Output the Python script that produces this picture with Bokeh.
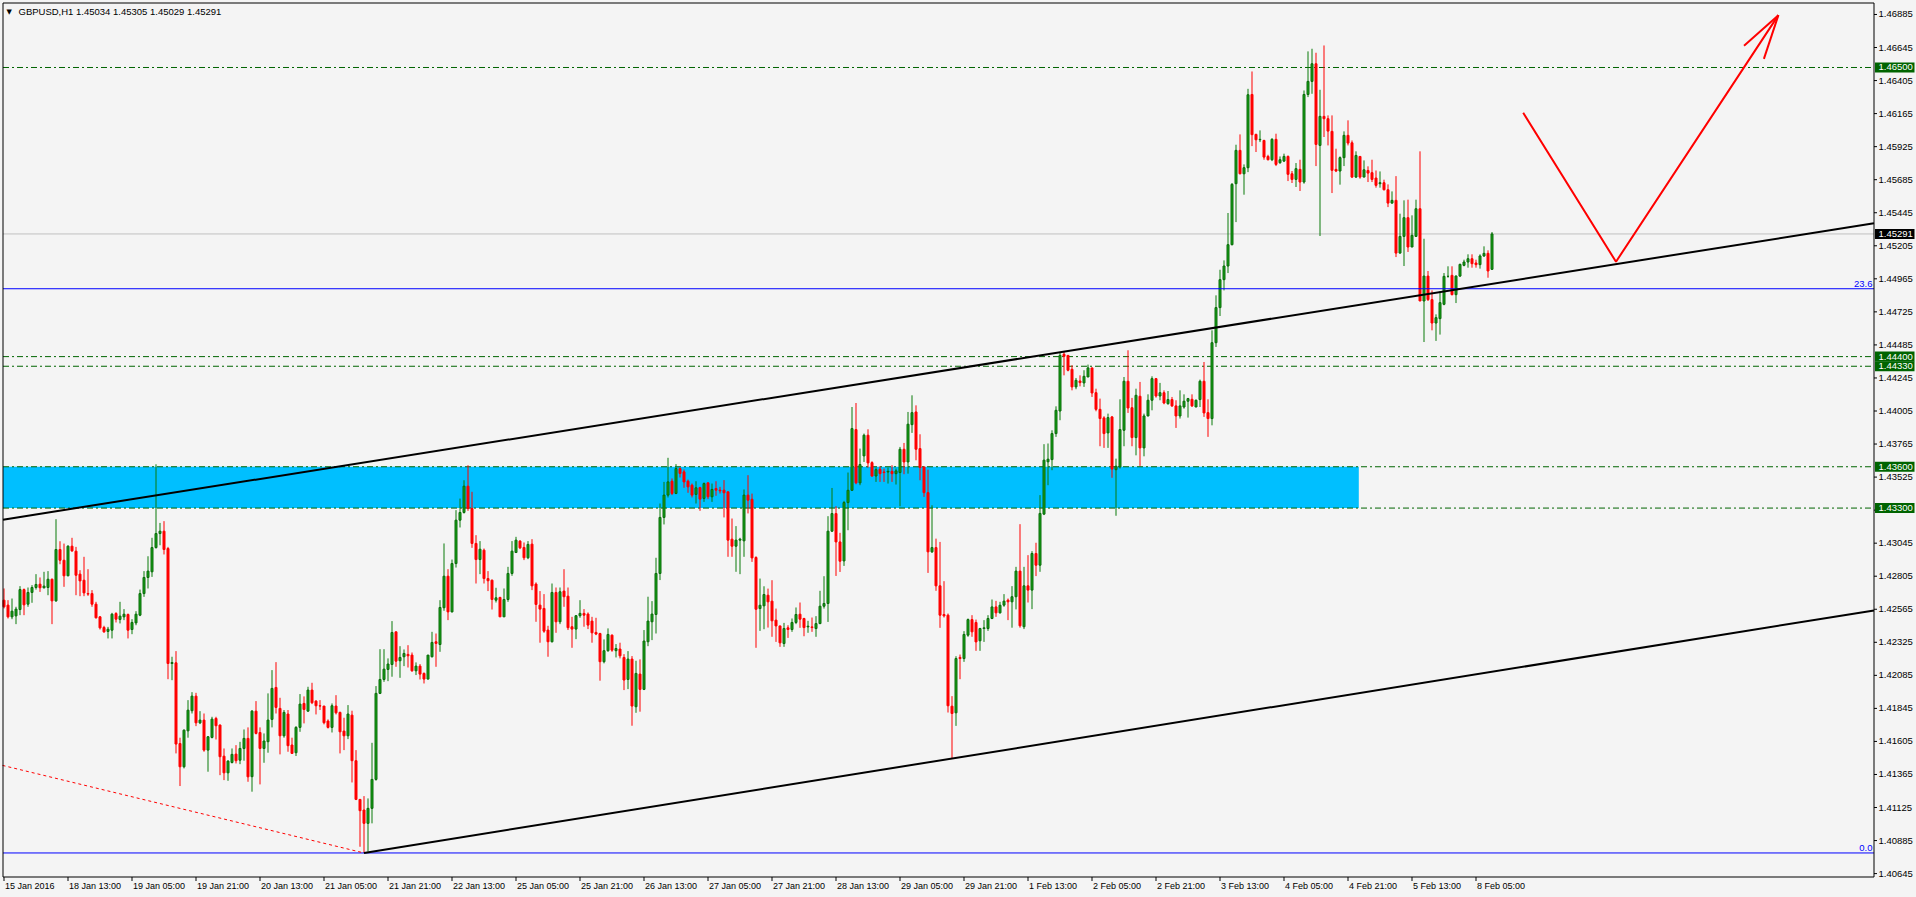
import math
from bokeh.plotting import figure
from bokeh.models import Range1d, ColumnDataSource
from bokeh.core.properties import value
from bokeh.embed import file_html
from bokeh.resources import INLINE

# ---------------- data (GBPUSD H1) ----------------
symbol = "GBPUSD,H1"

opens = [
 1.42631, 1.42595, 1.42510, 1.42517, 1.42563, 1.42708, 1.42602, 1.42687, 1.42723, 1.42747,
 1.42721, 1.42723, 1.42783, 1.42626, 1.42999, 1.42921, 1.42808, 1.43023, 1.42987, 1.42820,
 1.42776, 1.42679, 1.42679, 1.42602, 1.42510, 1.42433, 1.42404, 1.42413, 1.42534, 1.42491,
 1.42510, 1.42527, 1.42418, 1.42466, 1.42522, 1.42679, 1.42796, 1.42837, 1.43013, 1.43115,
 1.43132, 1.43006, 1.42171, 1.42176, 1.41590, 1.41421, 1.41682, 1.41828, 1.41934, 1.41740,
 1.41760, 1.41542, 1.41634, 1.41772, 1.41724, 1.41498, 1.41377, 1.41452, 1.41513, 1.41469,
 1.41554, 1.41627, 1.41349, 1.41825, 1.41670, 1.41554, 1.41603, 1.41765, 1.41997, 1.41845,
 1.41646, 1.41804, 1.41579, 1.41523, 1.41707, 1.41881, 1.41825, 1.41978, 1.41898, 1.41864,
 1.41862, 1.41753, 1.41707, 1.41862, 1.41816, 1.41680, 1.41646, 1.41796, 1.41465, 1.41184,
 1.41107, 1.41010, 1.41119, 1.41329, 1.41954, 1.42055, 1.42128, 1.42164, 1.42401, 1.42191,
 1.42220, 1.42237, 1.42232, 1.42118, 1.42152, 1.42099, 1.42058, 1.42220, 1.42329, 1.42309,
 1.42576, 1.42805, 1.42546, 1.42897, 1.43212, 1.43268, 1.43459, 1.43297, 1.43043, 1.42926,
 1.42994, 1.42788, 1.42776, 1.42631, 1.42651, 1.42510, 1.42636, 1.42825, 1.42977, 1.43060,
 1.43014, 1.42939, 1.43038, 1.42748, 1.42595, 1.42571, 1.42414, 1.42329, 1.42687, 1.42474,
 1.42697, 1.42660, 1.42438, 1.42421, 1.42518, 1.42535, 1.42530, 1.42479, 1.42397, 1.42389,
 1.42184, 1.42264, 1.42377, 1.42264, 1.42276, 1.42215, 1.42055, 1.42203, 1.41857, 1.42094,
 1.41983, 1.42329, 1.42474, 1.42527, 1.42825, 1.43232, 1.43394, 1.43495, 1.43406, 1.43587,
 1.43563, 1.43495, 1.43466, 1.43399, 1.43449, 1.43370, 1.43483, 1.43382, 1.43442, 1.43430,
 1.43430, 1.43418, 1.43074, 1.43023, 1.43067, 1.43062, 1.43394, 1.43364, 1.42941, 1.42570,
 1.42590, 1.42667, 1.42624, 1.42486, 1.42444, 1.42316, 1.42430, 1.42418, 1.42469, 1.42529,
 1.42498, 1.42437, 1.42437, 1.42425, 1.42461, 1.42587, 1.42607, 1.43132, 1.43260, 1.43054,
 1.42916, 1.43340, 1.43429, 1.43870, 1.43483, 1.43679, 1.43829, 1.43630, 1.43533, 1.43582,
 1.43562, 1.43562, 1.43567, 1.43550, 1.43558, 1.43727, 1.43635, 1.43906, 1.43998, 1.43732,
 1.43599, 1.43412, 1.42982, 1.43013, 1.42735, 1.42527, 1.42522, 1.41861, 1.41813, 1.42215,
 1.42207, 1.42377, 1.42490, 1.42469, 1.42336, 1.42425, 1.42425, 1.42498, 1.42582, 1.42539,
 1.42595, 1.42631, 1.42619, 1.42656, 1.42842, 1.42438, 1.42735, 1.42704, 1.42970, 1.42885,
 1.43256, 1.43636, 1.43652, 1.43841, 1.44005, 1.44417, 1.44409, 1.44308, 1.44180, 1.44223,
 1.44209, 1.44252, 1.44318, 1.44138, 1.44017, 1.43955, 1.43846, 1.43962, 1.43579, 1.43599,
 1.43865, 1.44221, 1.44029, 1.43812, 1.44112, 1.43737, 1.43969, 1.44083, 1.44240, 1.44114,
 1.44138, 1.44058, 1.44088, 1.44042, 1.43969, 1.44034, 1.44076, 1.44090, 1.44034, 1.44088,
 1.44221, 1.43993, 1.43950, 1.44501, 1.44756, 1.44959, 1.45058, 1.45213, 1.45656, 1.45898,
 1.45728, 1.45772, 1.46304, 1.46014, 1.45975, 1.45970, 1.45854, 1.45830, 1.45978, 1.45808,
 1.45820, 1.45854, 1.45728, 1.45687, 1.45760, 1.45668, 1.46304, 1.46399, 1.46527, 1.45934,
 1.46145, 1.46128, 1.46036, 1.45760, 1.45748, 1.45845, 1.46007, 1.45953, 1.45704, 1.45854,
 1.45704, 1.45752, 1.45736, 1.45697, 1.45656, 1.45663, 1.45612, 1.45515, 1.45535, 1.45152,
 1.45273, 1.45409, 1.45196, 1.45273, 1.45474, 1.44804, 1.44985, 1.44814, 1.44644, 1.44676,
 1.44780, 1.44983, 1.44990, 1.44850, 1.44985, 1.45063, 1.45087, 1.45111, 1.45080, 1.45068,
 1.45131, 1.45150, 1.45034,
]

highs = [
 1.42716, 1.42631, 1.42643, 1.42583, 1.42733, 1.42716, 1.42723, 1.42740, 1.42820, 1.42796,
 1.42837, 1.42842, 1.42788, 1.43219, 1.43059, 1.43042, 1.43030, 1.43084, 1.43018, 1.42849,
 1.42946, 1.42856, 1.42704, 1.42619, 1.42515, 1.42445, 1.42437, 1.42539, 1.42544, 1.42619,
 1.42566, 1.42534, 1.42493, 1.42551, 1.42708, 1.42842, 1.42950, 1.43084, 1.43618, 1.43192,
 1.43205, 1.43018, 1.42220, 1.42261, 1.41632, 1.41692, 1.41905, 1.41963, 1.41958, 1.41825,
 1.41808, 1.41644, 1.41784, 1.41784, 1.41728, 1.41554, 1.41469, 1.41554, 1.41578, 1.41602,
 1.41692, 1.41707, 1.41833, 1.41898, 1.41707, 1.41663, 1.41954, 1.42123, 1.42181, 1.41922,
 1.41833, 1.41833, 1.41632, 1.41716, 1.41949, 1.41932, 1.42002, 1.42031, 1.41905, 1.41905,
 1.41862, 1.41765, 1.41881, 1.41941, 1.41821, 1.41777, 1.41869, 1.41828, 1.41542, 1.41186,
 1.41208, 1.41191, 1.41595, 1.42007, 1.42275, 1.42275, 1.42208, 1.42479, 1.42401, 1.42297,
 1.42273, 1.42304, 1.42251, 1.42179, 1.42167, 1.42106, 1.42232, 1.42401, 1.42389, 1.42631,
 1.43043, 1.42856, 1.42926, 1.43285, 1.43369, 1.43502, 1.43611, 1.43418, 1.43103, 1.43060,
 1.43006, 1.42842, 1.42781, 1.42721, 1.42655, 1.42716, 1.42873, 1.43060, 1.43091, 1.43067,
 1.43050, 1.43060, 1.43074, 1.42760, 1.42697, 1.42675, 1.42445, 1.42752, 1.42723, 1.42723,
 1.42856, 1.42723, 1.42510, 1.42522, 1.42631, 1.42566, 1.42542, 1.42510, 1.42503, 1.42394,
 1.42346, 1.42426, 1.42382, 1.42312, 1.42322, 1.42239, 1.42261, 1.42225, 1.42191, 1.42201,
 1.42414, 1.42656, 1.42624, 1.42939, 1.43333, 1.43490, 1.43665, 1.43515, 1.43619, 1.43595,
 1.43580, 1.43507, 1.43478, 1.43495, 1.43454, 1.43486, 1.43486, 1.43478, 1.43495, 1.43454,
 1.43503, 1.43418, 1.43224, 1.43169, 1.43084, 1.43435, 1.43539, 1.43405, 1.42950, 1.42788,
 1.42732, 1.42715, 1.42776, 1.42570, 1.42444, 1.42466, 1.42449, 1.42498, 1.42578, 1.42614,
 1.42503, 1.42481, 1.42505, 1.42515, 1.42699, 1.42805, 1.43241, 1.43446, 1.43313, 1.43120,
 1.43352, 1.43558, 1.44034, 1.44063, 1.43732, 1.43841, 1.43872, 1.43640, 1.43594, 1.43604,
 1.43587, 1.43594, 1.43611, 1.43587, 1.43744, 1.43773, 1.43998, 1.44119, 1.44046, 1.43836,
 1.43599, 1.43579, 1.43320, 1.43078, 1.43054, 1.42769, 1.42534, 1.41934, 1.42224, 1.42236,
 1.42406, 1.42498, 1.42522, 1.42490, 1.42430, 1.42486, 1.42522, 1.42636, 1.42626, 1.42619,
 1.42675, 1.42643, 1.42733, 1.42873, 1.43183, 1.42873, 1.42958, 1.42987, 1.43048, 1.43394,
 1.43764, 1.43769, 1.43865, 1.44039, 1.44434, 1.44434, 1.44409, 1.44337, 1.44245, 1.44264,
 1.44301, 1.44342, 1.44318, 1.44167, 1.44095, 1.43967, 1.43986, 1.43969, 1.43659, 1.44090,
 1.44252, 1.44446, 1.44100, 1.44167, 1.44216, 1.43986, 1.44126, 1.44257, 1.44245, 1.44209,
 1.44155, 1.44150, 1.44107, 1.44083, 1.44155, 1.44126, 1.44100, 1.44126, 1.44088, 1.44233,
 1.44361, 1.44090, 1.44591, 1.44845, 1.45031, 1.45099, 1.45443, 1.45661, 1.45939, 1.46014,
 1.45796, 1.46345, 1.46471, 1.46019, 1.46043, 1.45975, 1.45866, 1.45987, 1.46019, 1.45854,
 1.45874, 1.45861, 1.45748, 1.45806, 1.45830, 1.46333, 1.46617, 1.46636, 1.46607, 1.46338,
 1.46660, 1.46152, 1.46152, 1.45910, 1.45854, 1.46036, 1.46116, 1.45970, 1.45891, 1.45854,
 1.45825, 1.45782, 1.45830, 1.45752, 1.45745, 1.45685, 1.45651, 1.45600, 1.45711, 1.45438,
 1.45535, 1.45540, 1.45426, 1.45540, 1.45891, 1.45256, 1.45022, 1.44881, 1.44707, 1.44874,
 1.45007, 1.45056, 1.45056, 1.44990, 1.45075, 1.45104, 1.45143, 1.45143, 1.45104, 1.45143,
 1.45201, 1.45172, 1.45305,
]

lows = [
 1.42571, 1.42498, 1.42493, 1.42457, 1.42522, 1.42522, 1.42583, 1.42612, 1.42708, 1.42691,
 1.42716, 1.42667, 1.42457, 1.42619, 1.42892, 1.42728, 1.42805, 1.42982, 1.42667, 1.42660,
 1.42660, 1.42662, 1.42583, 1.42498, 1.42418, 1.42394, 1.42353, 1.42353, 1.42469, 1.42462,
 1.42486, 1.42353, 1.42384, 1.42449, 1.42515, 1.42655, 1.42716, 1.42800, 1.43006, 1.43030,
 1.42963, 1.42057, 1.42050, 1.41518, 1.41281, 1.41409, 1.41632, 1.41808, 1.41716, 1.41731,
 1.41530, 1.41385, 1.41627, 1.41619, 1.41360, 1.41324, 1.41319, 1.41445, 1.41445, 1.41440,
 1.41465, 1.41312, 1.41240, 1.41656, 1.41293, 1.41450, 1.41523, 1.41707, 1.41808, 1.41511,
 1.41632, 1.41530, 1.41518, 1.41499, 1.41675, 1.41736, 1.41821, 1.41876, 1.41801, 1.41833,
 1.41729, 1.41699, 1.41670, 1.41801, 1.41518, 1.41542, 1.41622, 1.41307, 1.41179, 1.40840,
 1.40795, 1.40805, 1.41010, 1.41320, 1.41949, 1.42038, 1.42043, 1.42075, 1.42147, 1.42067,
 1.42152, 1.42142, 1.42111, 1.42087, 1.42055, 1.42026, 1.42055, 1.42215, 1.42147, 1.42256,
 1.42554, 1.42486, 1.42542, 1.42868, 1.43159, 1.43260, 1.43280, 1.43011, 1.42752, 1.42820,
 1.42752, 1.42697, 1.42563, 1.42614, 1.42510, 1.42510, 1.42619, 1.42808, 1.42975, 1.43002,
 1.42922, 1.42929, 1.42704, 1.42474, 1.42322, 1.42394, 1.42220, 1.42324, 1.42394, 1.42457,
 1.42583, 1.42414, 1.42285, 1.42348, 1.42503, 1.42438, 1.42421, 1.42322, 1.42377, 1.42046,
 1.42172, 1.42256, 1.42256, 1.42215, 1.42208, 1.41978, 1.41985, 1.41719, 1.41813, 1.41821,
 1.41978, 1.42297, 1.42341, 1.42389, 1.42777, 1.43181, 1.43377, 1.43394, 1.43401, 1.43522,
 1.43447, 1.43411, 1.43377, 1.43333, 1.43280, 1.43345, 1.43365, 1.43345, 1.43389, 1.43406,
 1.43232, 1.42946, 1.42946, 1.42837, 1.42820, 1.42946, 1.43261, 1.42909, 1.42285, 1.42408,
 1.42420, 1.42432, 1.42365, 1.42328, 1.42292, 1.42292, 1.42357, 1.42401, 1.42457, 1.42430,
 1.42369, 1.42394, 1.42401, 1.42365, 1.42457, 1.42570, 1.42473, 1.43127, 1.42807, 1.42836,
 1.42880, 1.43139, 1.43425, 1.43473, 1.43466, 1.43635, 1.43594, 1.43526, 1.43490, 1.43490,
 1.43490, 1.43478, 1.43490, 1.43471, 1.43313, 1.43546, 1.43550, 1.43846, 1.43647, 1.43502,
 1.43381, 1.42829, 1.42974, 1.42699, 1.42430, 1.42505, 1.41815, 1.41481, 1.41718, 1.42057,
 1.42183, 1.42365, 1.42365, 1.42263, 1.42263, 1.42328, 1.42408, 1.42493, 1.42510, 1.42534,
 1.42583, 1.42486, 1.42431, 1.42564, 1.42431, 1.42421, 1.42614, 1.42566, 1.42806, 1.42837,
 1.43249, 1.43466, 1.43575, 1.43817, 1.43938, 1.44264, 1.44293, 1.44155, 1.44163, 1.44184,
 1.44180, 1.44252, 1.44107, 1.44003, 1.43749, 1.43737, 1.43737, 1.43520, 1.43244, 1.43587,
 1.43749, 1.43991, 1.43749, 1.43683, 1.43606, 1.43676, 1.43967, 1.44010, 1.44102, 1.44083,
 1.44054, 1.44051, 1.44034, 1.43882, 1.43950, 1.44022, 1.43957, 1.44034, 1.44034, 1.44034,
 1.43962, 1.43817, 1.43901, 1.44470, 1.44695, 1.44881, 1.45007, 1.45208, 1.45377, 1.45724,
 1.45576, 1.45740, 1.45929, 1.45886, 1.45958, 1.45830, 1.45825, 1.45820, 1.45784, 1.45801,
 1.45813, 1.45675, 1.45661, 1.45632, 1.45603, 1.45656, 1.46285, 1.46309, 1.45784, 1.45276,
 1.45995, 1.45934, 1.45588, 1.45740, 1.45649, 1.45784, 1.45934, 1.45697, 1.45697, 1.45692,
 1.45704, 1.45668, 1.45668, 1.45627, 1.45627, 1.45607, 1.45486, 1.45511, 1.45123, 1.45148,
 1.45058, 1.45160, 1.45196, 1.45269, 1.44804, 1.44506, 1.44804, 1.44591, 1.44514, 1.44560,
 1.44773, 1.44973, 1.44845, 1.44789, 1.44978, 1.45056, 1.45046, 1.45046, 1.45046, 1.45039,
 1.45124, 1.44973, 1.45029,
]

closes = [
 1.42583, 1.42510, 1.42551, 1.42566, 1.42708, 1.42597, 1.42687, 1.42723, 1.42745, 1.42721,
 1.42733, 1.42783, 1.42626, 1.42999, 1.42921, 1.42808, 1.43023, 1.42989, 1.42812, 1.42771,
 1.42684, 1.42675, 1.42602, 1.42503, 1.42430, 1.42401, 1.42420, 1.42529, 1.42493, 1.42515,
 1.42529, 1.42413, 1.42469, 1.42529, 1.42679, 1.42796, 1.42842, 1.43013, 1.43115, 1.43132,
 1.42999, 1.42171, 1.42178, 1.41586, 1.41421, 1.41687, 1.41832, 1.41934, 1.41740, 1.41760,
 1.41542, 1.41639, 1.41767, 1.41719, 1.41494, 1.41377, 1.41462, 1.41511, 1.41465, 1.41554,
 1.41627, 1.41348, 1.41825, 1.41663, 1.41554, 1.41608, 1.41760, 1.41990, 1.41852, 1.41646,
 1.41816, 1.41574, 1.41518, 1.41707, 1.41876, 1.41837, 1.41978, 1.41886, 1.41864, 1.41862,
 1.41741, 1.41707, 1.41864, 1.41813, 1.41675, 1.41646, 1.41804, 1.41465, 1.41184, 1.41102,
 1.41010, 1.41119, 1.41329, 1.41954, 1.42055, 1.42130, 1.42167, 1.42396, 1.42188, 1.42215,
 1.42244, 1.42227, 1.42118, 1.42152, 1.42094, 1.42058, 1.42232, 1.42324, 1.42317, 1.42578,
 1.42805, 1.42546, 1.42897, 1.43212, 1.43268, 1.43459, 1.43297, 1.43043, 1.42926, 1.43001,
 1.42788, 1.42772, 1.42636, 1.42648, 1.42510, 1.42636, 1.42825, 1.42987, 1.43067, 1.43011,
 1.42939, 1.43036, 1.42735, 1.42600, 1.42566, 1.42406, 1.42329, 1.42687, 1.42474, 1.42692,
 1.42656, 1.42431, 1.42421, 1.42518, 1.42535, 1.42522, 1.42450, 1.42394, 1.42385, 1.42184,
 1.42264, 1.42382, 1.42268, 1.42280, 1.42227, 1.42051, 1.42203, 1.41862, 1.42099, 1.41983,
 1.42334, 1.42479, 1.42530, 1.42825, 1.43232, 1.43394, 1.43490, 1.43406, 1.43587, 1.43551,
 1.43490, 1.43454, 1.43394, 1.43447, 1.43365, 1.43478, 1.43382, 1.43435, 1.43430, 1.43425,
 1.43411, 1.43067, 1.43023, 1.43067, 1.43074, 1.43394, 1.43357, 1.42938, 1.42565, 1.42594,
 1.42672, 1.42619, 1.42481, 1.42444, 1.42321, 1.42425, 1.42418, 1.42469, 1.42527, 1.42493,
 1.42432, 1.42442, 1.42432, 1.42461, 1.42587, 1.42607, 1.43132, 1.43260, 1.43054, 1.42914,
 1.43340, 1.43429, 1.43877, 1.43483, 1.43616, 1.43829, 1.43628, 1.43533, 1.43579, 1.43550,
 1.43558, 1.43567, 1.43550, 1.43570, 1.43727, 1.43635, 1.43909, 1.43993, 1.43727, 1.43594,
 1.43412, 1.42982, 1.43013, 1.42735, 1.42522, 1.42517, 1.41864, 1.41808, 1.42207, 1.42207,
 1.42382, 1.42490, 1.42401, 1.42328, 1.42425, 1.42430, 1.42498, 1.42582, 1.42539, 1.42594,
 1.42624, 1.42619, 1.42656, 1.42842, 1.42445, 1.42735, 1.42704, 1.42970, 1.42885, 1.43261,
 1.43648, 1.43655, 1.43841, 1.44010, 1.44409, 1.44402, 1.44301, 1.44180, 1.44228, 1.44211,
 1.44257, 1.44318, 1.44136, 1.44017, 1.43950, 1.43841, 1.43957, 1.43583, 1.43604, 1.43870,
 1.44221, 1.44027, 1.43812, 1.44119, 1.43737, 1.43969, 1.44083, 1.44240, 1.44114, 1.44138,
 1.44063, 1.44088, 1.44042, 1.43969, 1.44042, 1.44076, 1.44095, 1.44042, 1.44083, 1.44221,
 1.43991, 1.43950, 1.44501, 1.44756, 1.44959, 1.45058, 1.45213, 1.45651, 1.45898, 1.45728,
 1.45772, 1.46302, 1.46012, 1.45975, 1.45978, 1.45849, 1.45830, 1.45978, 1.45796, 1.45830,
 1.45854, 1.45724, 1.45687, 1.45765, 1.45668, 1.46304, 1.46399, 1.46527, 1.45941, 1.46145,
 1.46128, 1.46038, 1.45753, 1.45748, 1.45845, 1.46007, 1.45951, 1.45704, 1.45861, 1.45704,
 1.45757, 1.45733, 1.45687, 1.45644, 1.45663, 1.45612, 1.45515, 1.45535, 1.45152, 1.45273,
 1.45409, 1.45196, 1.45281, 1.45474, 1.44804, 1.44985, 1.44814, 1.44644, 1.44683, 1.44792,
 1.44983, 1.44983, 1.44850, 1.44985, 1.45070, 1.45087, 1.45111, 1.45075, 1.45068, 1.45131,
 1.45150, 1.45022, 1.45291,
]

time_labels = ["15 Jan 2016", "18 Jan 13:00", "19 Jan 05:00", "19 Jan 21:00", "20 Jan 13:00",
               "21 Jan 05:00", "21 Jan 21:00", "22 Jan 13:00", "25 Jan 05:00", "25 Jan 21:00",
               "26 Jan 13:00", "27 Jan 05:00", "27 Jan 21:00", "28 Jan 13:00", "29 Jan 05:00",
               "29 Jan 21:00", "1 Feb 13:00", "2 Feb 05:00", "2 Feb 21:00", "3 Feb 13:00",
               "4 Feb 05:00", "4 Feb 21:00", "5 Feb 13:00", "8 Feb 05:00"]
time_label_bars = [1, 17, 33, 49, 65, 81, 97, 113, 129, 145, 161, 177, 193, 209, 225, 241,
                   257, 273, 289, 305, 321, 337, 353, 369]

price_ticks = [1.40645, 1.40885, 1.41125, 1.41365, 1.41605, 1.41845, 1.42085, 1.42325, 1.42565,
               1.42805, 1.43045, 1.43285, 1.43525, 1.43765, 1.44005, 1.44245, 1.44485, 1.44725,
               1.44965, 1.45205, 1.45445, 1.45685, 1.45925, 1.46165, 1.46405, 1.46645, 1.46885]

level_lines = [1.46500, 1.44400, 1.44330, 1.43600, 1.43300]
zone_bottom, zone_top, zone_end_bar = 1.43300, 1.43600, 339.7
fib_names = ["0.0", "23.6"]
fib_prices = [1.40795, 1.44893]
upper_trend_bars, upper_trend_prices = [1, 265], [1.43217, 1.44432]
lower_trend_bars, lower_trend_prices = [91, 238], [1.40795, 1.41481]
fib_trend_bars, fib_trend_prices = [0.625, 91], [1.41431, 1.40795]
proj_bars, proj_prices = [380.8, 404.0, 444.6], [1.46171, 1.45089, 1.46880]
chart_top_price, chart_bottom_price = 1.46972, 1.40624

# ---------------- style / layout ----------------
BG = "#F4F4F4"
BULL_FILL, BULL_LINE, BULL_WICK = "#14A314", "#0B6A0B", "#0B7B0B"
BEAR = "#FF0000"
LEVEL_GREEN = "#006400"
FONT = "Liberation Sans"
W, H = 1916, 897
BAR_PX = 4.0
FR_L, FR_R, FR_T, FR_B = 2, 1873, 2, 876          # chart frame on the canvas (px)
K = (chart_top_price - chart_bottom_price) / (FR_B - FR_T)   # price per px


def bx(sx):
    """canvas px -> bar coordinate"""
    return (sx + 0.5) / BAR_PX


def py(sy):
    """canvas px -> price coordinate"""
    return chart_top_price - (sy - FR_T) * K


XL, XR = bx(FR_L + 0.5), bx(FR_R + 0.5)
YT, YB = py(FR_T + 0.5), py(FR_B + 0.5)

p = figure(width=W, height=H, x_range=Range1d(bx(0), bx(W)), y_range=Range1d(py(H), py(0)),
           output_backend="svg", toolbar_location=None,
           x_axis_location=None, y_axis_location=None,
           min_border_left=0, min_border_right=0, min_border_top=0, min_border_bottom=0,
           background_fill_color=BG, border_fill_color=BG, outline_line_color=None)
p.grid.visible = False

# zone and horizontal levels (behind candles)
p.quad(left=[XL], right=[zone_end_bar], bottom=[zone_bottom], top=[zone_top],
       fill_color="#00BFFF", line_color=None)
p.segment(x0=[XL] * len(level_lines), y0=level_lines, x1=[XR] * len(level_lines), y1=level_lines,
          line_color=LEVEL_GREEN, line_width=1, line_dash="6 3 2 3")
p.segment(x0=[XL], y0=[closes[-1]], x1=[XR], y1=[closes[-1]], line_color="#C0C0C0", line_width=1)

# candles
n = min(len(opens), len(highs), len(lows), len(closes))
bars = list(range(1, n + 1))
up = [closes[i] >= opens[i] for i in range(n)]
src = ColumnDataSource(dict(
    x=bars,
    top=[max(opens[i], closes[i]) for i in range(n)],
    bottom=[min(opens[i], closes[i]) for i in range(n)],
    high=highs[:n], low=lows[:n],
    fill=[BULL_FILL if u else BEAR for u in up],
    line=[BULL_LINE if u else BEAR for u in up],
    wick=[BULL_WICK if u else BEAR for u in up],
))
p.segment(x0="x", y0="low", x1="x", y1="high", source=src, line_color="wick", line_width=1)
p.vbar(x="x", top="top", bottom="bottom", width=0.5, source=src,
       fill_color="fill", line_color="line", line_width=1)

# fibonacci levels
p.segment(x0=[XL] * len(fib_prices), y0=fib_prices, x1=[XR] * len(fib_prices), y1=fib_prices,
          line_color="#0000FF", line_width=1)
p.text(x=[bx(FR_R - 1)] * len(fib_prices), y=[v + 1.5 * K for v in fib_prices], text=fib_names,
       text_align="right", text_baseline="bottom", text_color="#0000FF",
       text_font=value(FONT), text_font_size="9.5px")


# trend lines (rays to the right edge of the chart)
def extend(bxs, pys, start, end):
    s = (pys[1] - pys[0]) / (bxs[1] - bxs[0])
    return [start, end], [pys[0] + s * (start - bxs[0]), pys[0] + s * (end - bxs[0])]


ux, uy = extend(upper_trend_bars, upper_trend_prices, XL, XR)
p.line(ux, uy, line_color="black", line_width=2)
lx, ly = extend(lower_trend_bars, lower_trend_prices, lower_trend_bars[0], XR)
p.line(lx, ly, line_color="black", line_width=2)
p.line(fib_trend_bars, fib_trend_prices, line_color="red", line_width=1, line_dash="3 3")

# projected path with an open arrow head
p.line(proj_bars, proj_prices, line_color="red", line_width=2)
dx = (proj_bars[-1] - proj_bars[-2]) * BAR_PX
dy = (proj_prices[-1] - proj_prices[-2]) / K
ang = math.atan2(dy, dx)
wing_x, wing_y = [], []
for sgn in (1, -1):
    a = ang + math.pi + sgn * math.radians(15)
    wing_x.append([proj_bars[-1], proj_bars[-1] + 46 * math.cos(a) / BAR_PX])
    wing_y.append([proj_prices[-1], proj_prices[-1] + 46 * math.sin(a) * K])
p.multi_line(wing_x, wing_y, line_color="red", line_width=2)

# chart frame
p.multi_line([[XL, XR, XR, XL, XL]], [[YT, YT, YB, YB, YT]], line_color="black", line_width=1)

# price scale (right)
p.segment(x0=[XR] * len(price_ticks), y0=price_ticks, x1=[bx(FR_R + 3.5)] * len(price_ticks),
          y1=price_ticks, line_color="black", line_width=1)
p.text(x=[bx(FR_R + 5)] * len(price_ticks), y=price_ticks,
       text=["%.5f" % t for t in price_ticks], text_align="left", text_baseline="middle",
       text_color="black", text_font=value(FONT), text_font_size="9.5px")

# time scale (bottom)
p.segment(x0=time_label_bars, y0=[YB] * len(time_label_bars), x1=time_label_bars,
          y1=[py(FR_B + 4.5)] * len(time_label_bars), line_color="black", line_width=1)
p.text(x=time_label_bars, y=[py(FR_B + 9.5)] * len(time_label_bars), text=time_labels,
       x_offset=1, text_align="left", text_baseline="middle", text_color="black",
       text_font=value(FONT), text_font_size="9px")

# price tags on the scale
tag_prices = level_lines + [closes[-1]]
tag_colors = [LEVEL_GREEN] * len(level_lines) + ["black"]
p.quad(left=[bx(FR_R + 1.5)] * len(tag_prices), right=[bx(1914)] * len(tag_prices),
       bottom=[v - 5 * K for v in tag_prices], top=[v + 5 * K for v in tag_prices],
       fill_color=tag_colors, line_color=None)
p.text(x=[bx(FR_R + 5)] * len(tag_prices), y=tag_prices, text=["%.5f" % v for v in tag_prices],
       text_align="left", text_baseline="middle", text_color="white",
       text_font=value(FONT), text_font_size="9.5px")

# header
header = "%s  %.5f %.5f %.5f %.5f" % (symbol, opens[-1], highs[-1], lows[-1], closes[-1])
p.text(x=[bx(6)], y=[py(11)], text=["\u25BC"], text_align="left", text_baseline="middle",
       text_color="black", text_font=value("DejaVu Sans"), text_font_size="7px")
p.text(x=[bx(18)], y=[py(11)], text=[header], text_align="left", text_baseline="middle",
       text_color="black", text_font=value(FONT), text_font_size="9.5px")

html = file_html(p, INLINE, title="GBPUSD,H1")
html = html.replace("<head>", "<head>\n<style>html, body {margin:0; padding:0; overflow:hidden; background:#F4F4F4;}</style>", 1)
open("out.html", "w").write(html)
